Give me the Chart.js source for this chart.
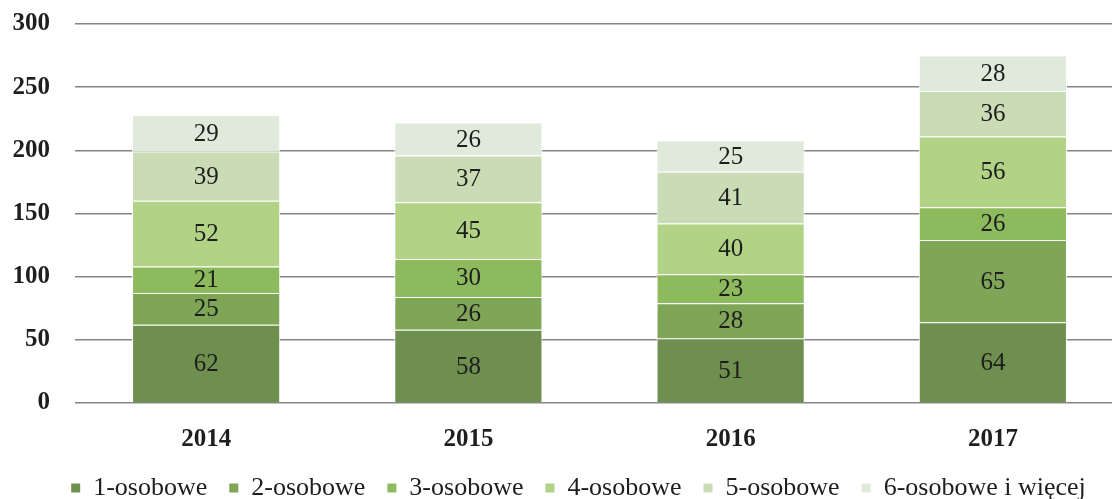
<!DOCTYPE html>
<html>
<head>
<meta charset="utf-8">
<script src="https://cdn.jsdelivr.net/npm/chart.js@4/dist/chart.umd.min.js"></script>
<style>
  html, body { margin: 0; padding: 0; background: #fff; overflow: hidden; }
  #wrap { width: 1112px; height: 499px; overflow: hidden; }
</style>
</head>
<body>
<div id="wrap"><canvas id="chart" width="1124" height="499"></canvas></div>
<script>
const years = ['2014', '2015', '2016', '2017'];
const seriesNames = ['1-osobowe', '2-osobowe', '3-osobowe', '4-osobowe', '5-osobowe', '6-osobowe i więcej'];
const osob1 = [62, 58, 51, 64];
const osob2 = [25, 26, 28, 65];
const osob3 = [21, 30, 23, 26];
const osob4 = [52, 45, 40, 56];
const osob5 = [39, 37, 41, 36];
const osob6 = [29, 26, 25, 28];
const colors = ['#6f8f4e', '#7fa556', '#8dba5c', '#b2d386', '#cadcb6', '#e0eadb'];

const serif = '"Liberation Serif", "DejaVu Serif", serif';

// numbers in the middle of each segment
const valueLabels = {
    id: 'valueLabels',
    afterDatasetsDraw(chart) {
        const ctx = chart.ctx;
        ctx.save();
        ctx.font = '25px ' + serif;
        ctx.fillStyle = '#1e1e1e';
        ctx.textAlign = 'center';
        ctx.textBaseline = 'middle';
        chart.data.datasets.forEach((ds, i) => {
            chart.getDatasetMeta(i).data.forEach((bar, j) => {
                const c = bar.getCenterPoint();
                ctx.fillText(ds.data[j], c.x, c.y + 1);
            });
        });
        ctx.restore();
    }
};

// the legend in the source sits a bit right of the middle
const legendShift = {
    id: 'legendShift',
    afterLayout(chart) {
        const lg = chart.legend;
        lg.left += 12;
        lg.right += 12;
        lg.top -= 16;
        lg.bottom -= 16;
    }
};

const allSeries = [osob1, osob2, osob3, osob4, osob5, osob6];

new Chart(document.getElementById('chart').getContext('2d'), {
    type: 'bar',
    data: {
        labels: years,
        datasets: allSeries.map((d, i) => ({
            label: seriesNames[i],
            data: d,
            backgroundColor: colors[i],
            borderColor: '#ffffff',
            borderWidth: 1,
            categoryPercentage: 1,
            barPercentage: 0.565
        }))
    },
    options: {
        responsive: false,
        animation: false,
        layout: { padding: { left: 9, right: 0, top: 24, bottom: -28 } },
        plugins: {
            tooltip: { enabled: false },
            legend: {
                position: 'bottom',
                labels: {
                    boxWidth: 9,
                    boxHeight: 9,
                    padding: 22,
                    color: '#1e1e1e',
                    font: { family: serif, size: 26 },
                    generateLabels(chart) {
                        return Chart.defaults.plugins.legend.labels.generateLabels(chart)
                            .map(item => ({ ...item, lineWidth: 0 }));
                    }
                }
            }
        },
        scales: {
            x: {
                stacked: true,
                grid: { display: false },
                border: { display: false },
                ticks: {
                    color: '#1e1e1e',
                    padding: 14,
                    font: { family: serif, size: 25, weight: 'bold' }
                }
            },
            y: {
                stacked: true,
                min: 0,
                max: 300,
                border: { display: false },
                grid: { color: '#858585', lineWidth: 1.4, drawTicks: false },
                ticks: {
                    stepSize: 50,
                    color: '#1e1e1e',
                    padding: 25,
                    font: { family: serif, size: 25, weight: 'bold' }
                },
                afterFit(scale) {
                    scale.width = 66;
                    scale.paddingTop = 0;
                    scale.paddingBottom = 0;
                }
            }
        }
    },
    plugins: [valueLabels, legendShift]
});
</script>
</body>
</html>
